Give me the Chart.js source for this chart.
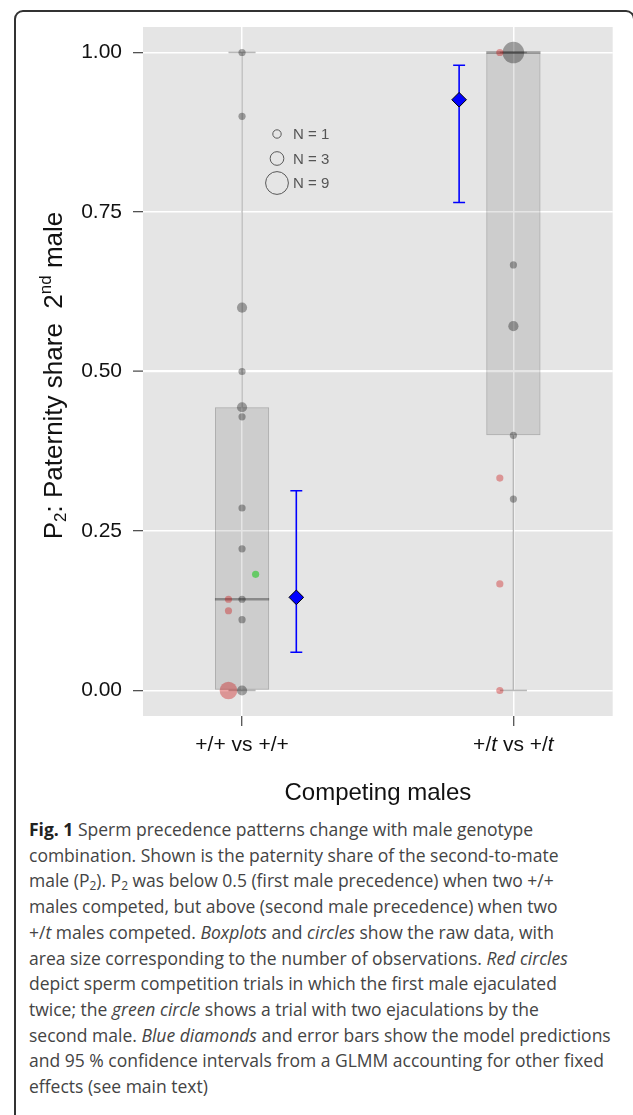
<!DOCTYPE html>
<html>
<head>
<meta charset="UTF-8">
<title>Fig. 1</title>
<script src="https://cdn.jsdelivr.net/npm/chart.js@4.4.1/dist/chart.umd.min.js"></script>
<style>
  html, body { margin: 0; padding: 0; background: #fff; overflow: hidden; }
  body { width: 633px; height: 1115px; position: relative; }
  .frame {
    position: absolute; left: 14px; top: 10px; width: 621px; height: 1130px;
    box-sizing: border-box; border: 2px solid #333; border-radius: 9px;
  }
  #wrap { position: absolute; left: 0; top: 0; width: 633px; height: 810px; }
  .caption {
    position: absolute; left: 29px; top: 817px;
    font-family: "Open Sans", sans-serif; font-size: 17.5px; line-height: 25.7px;
    color: #444; white-space: nowrap;
  }
  .caption b { color: #222; }
  .caption sub { font-size: 12px; line-height: 0; vertical-align: -3px; }
</style>
</head>
<body>
<div class="frame"></div>
<div id="wrap"><canvas id="chart" width="633" height="810"></canvas></div>
<div class="caption">
  <b>Fig. 1</b> Sperm precedence patterns change with male genotype<br>
  combination. Shown is the paternity share of the second-to-mate<br>
  male (P<sub>2</sub>). P<sub>2</sub> was below 0.5 (first male precedence) when two +/+<br>
  males competed, but above (second male precedence) when two<br>
  +/<i>t</i> males competed. <i>Boxplots</i> and <i>circles</i> show the raw data, with<br>
  area size corresponding to the number of observations. <i>Red circles</i><br>
  depict sperm competition trials in which the first male ejaculated<br>
  twice; the <i>green circle</i> shows a trial with two ejaculations by the<br>
  second male. <i>Blue diamonds</i> and error bars show the model predictions<br>
  and 95 % confidence intervals from a GLMM accounting for other fixed<br>
  effects (see main text)
</div>
<script>
// categories and axis
const groups = ['+/+ vs +/+', '+/t vs +/t'];
const yTicks = [0, 0.25, 0.5, 0.75, 1];

// raw P2 values (single ejaculations) and how many trials share each value
const ppGray  = [1.00, 0.90, 0.60, 0.50, 0.444, 0.429, 0.286, 0.222, 0.143, 0.111, 0.00];
const ppGrayN = [1, 1, 2, 1, 2, 1, 1, 1, 1, 1, 2];
const ptGray  = [1.00, 0.667, 0.571, 0.40, 0.30];
const ptGrayN = [9, 1, 2, 1, 1];

// first male ejaculated twice (red)
const ppRed  = [0.143, 0.125, 0.00];
const ppRedN = [1, 1, 6];
const ptRed  = [1.00, 0.333, 0.167, 0.00];
const ptRedN = [1, 1, 1, 1];

// second male ejaculated twice (green)
const ppGreen  = [0.182];
const ppGreenN = [1];

// boxplot stats per group
const boxQ1     = [0.00, 0.40];
const boxMedian = [0.143, 1.00];
const boxQ3     = [0.444, 1.00];
const whiskLow  = [0.00, 0.00];
const whiskHigh = [1.00, 1.00];

// GLMM predictions and 95% CI
const predP2 = [0.146, 0.926];
const ciLow  = [0.060, 0.765];
const ciHigh = [0.313, 0.980];

const legendN = [1, 3, 9];

// layout constants
const PRED_DX = [0.2, -0.2];
const RED_DX = -0.05, GREEN_DX = 0.05;
const BOX_HALF = 0.1, CAP_HALF = 0.05, EB_CAP = 0.022;
const R1 = 3.6;
const FONT = '"Liberation Sans", Arial, sans-serif';

function pts(vals, ns, g, dx) {
  return vals.map((v, i) => ({ x: g + 1 + dx, y: v, n: ns[i] }));
}
function segs(list) {
  const out = [];
  list.forEach(([x0, y0, x1, y1]) => { out.push({ x: x0, y: y0 }, { x: x1, y: y1 }, { x: x1, y: null }); });
  return out;
}
function lineSet(data, color, width, order) {
  return { type: 'line', data, borderColor: color, borderWidth: width, pointRadius: 0,
    fill: false, spanGaps: false, tension: 0, borderCapStyle: 'butt', order };
}
function dotSet(data, color, order) {
  return { type: 'scatter', data, backgroundColor: color, borderWidth: 0,
    pointRadius: c => c.raw ? R1 * Math.sqrt(c.raw.n) : 0, pointHoverRadius: c => c.raw ? R1 * Math.sqrt(c.raw.n) : 0, order };
}

const whiskerSegs = [], medianSegs = [], ebSegs = [];
groups.forEach((g, i) => {
  const c = i + 1;
  whiskerSegs.push([c, whiskLow[i], c, boxQ1[i]], [c, boxQ3[i], c, whiskHigh[i]],
    [c - CAP_HALF, whiskLow[i], c + CAP_HALF, whiskLow[i]],
    [c - CAP_HALF, whiskHigh[i], c + CAP_HALF, whiskHigh[i]]);
  medianSegs.push([c - BOX_HALF, boxMedian[i], c + BOX_HALF, boxMedian[i]]);
  const ex = c + PRED_DX[i];
  ebSegs.push([ex, ciLow[i], ex, ciHigh[i]],
    [ex - EB_CAP, ciLow[i], ex + EB_CAP, ciLow[i]],
    [ex - EB_CAP, ciHigh[i], ex + EB_CAP, ciHigh[i]]);
});

const datasets = [
  { type: 'bar', data: groups.map((g, i) => ({ x: i + 1, y: [boxQ1[i], boxQ3[i]] })),
    backgroundColor: 'rgba(0,0,0,0.1)', borderColor: 'rgba(0,0,0,0.25)', borderWidth: 1,
    borderSkipped: false, barPercentage: 0.2, categoryPercentage: 1, grouped: false, order: 10 },
  lineSet(segs(whiskerSegs), 'rgba(0,0,0,0.28)', 1.3, 9),
  lineSet(segs(medianSegs), 'rgba(0,0,0,0.33)', 2.6, 8),
  dotSet(pts(ppGray, ppGrayN, 0, 0).concat(pts(ptGray, ptGrayN, 1, 0)), 'rgba(0,0,0,0.33)', 6),
  dotSet(pts(ppRed, ppRedN, 0, RED_DX).concat(pts(ptRed, ptRedN, 1, RED_DX)), 'rgba(200,0,0,0.35)', 5),
  dotSet(pts(ppGreen, ppGreenN, 0, GREEN_DX), 'rgba(0,200,0,0.5)', 4),
  lineSet(segs(ebSegs), '#0000ff', 1.6, 2),
  { type: 'scatter', data: groups.map((g, i) => ({ x: i + 1 + PRED_DX[i], y: predP2[i] })),
    pointStyle: 'rectRot', pointRadius: 7.3, pointHoverRadius: 7.3, backgroundColor: '#0000ff',
    borderColor: '#000', borderWidth: 1, order: 1 }
];

function richText(ctx, parts, x, y, align) {
  let w = 0;
  parts.forEach(p => { ctx.font = p.font; w += ctx.measureText(p.t).width; });
  let cx = align === 'center' ? x - w / 2 : x;
  parts.forEach(p => {
    ctx.font = p.font;
    ctx.fillText(p.t, cx, y + (p.dy || 0));
    cx += ctx.measureText(p.t).width;
  });
}

const decor = {
  id: 'decor',
  beforeDraw(chart) {
    const { ctx, chartArea: a } = chart;
    ctx.save();
    ctx.fillStyle = '#e5e5e5';
    ctx.fillRect(a.left, a.top, a.right - a.left, a.bottom - a.top);
    ctx.restore();
  },
  afterDraw(chart) {
    const { ctx, chartArea: a } = chart;
    const xs = chart.scales.x;
    ctx.save();
    ctx.fillStyle = '#111';
    ctx.textBaseline = 'middle';
    // x tick labels, genotype t in italics
    const up = '21px ' + FONT, it = 'italic 21px ' + FONT;
    groups.forEach((g, i) => {
      const parts = g.split(/(t)/).filter(s => s).map(s => ({ t: s, font: s === 't' ? it : up }));
      richText(ctx, parts, xs.getPixelForValue(i + 1), a.bottom + 29, 'center');
    });
    // x title
    ctx.font = '24px ' + FONT;
    ctx.textAlign = 'center';
    ctx.fillText('Competing males', (a.left + a.right) / 2, a.bottom + 77);
    ctx.textAlign = 'left';
    // y title
    ctx.save();
    ctx.translate(55, (a.top + a.bottom) / 2 + 4);
    ctx.rotate(-Math.PI / 2);
    const big = '26px ' + FONT, small = '17px ' + FONT;
    richText(ctx, [
      { t: 'P', font: big }, { t: '2', font: small, dy: 6 },
      { t: ': Paternity share  2', font: big }, { t: 'nd', font: small, dy: -9 },
      { t: ' male', font: big }
    ], 0, 0, 'center');
    ctx.restore();
    // size legend
    const lx = a.left + 134, ly = a.top + 107;
    const gap = [0, 24.5, 49];
    legendN.forEach((n, i) => {
      ctx.beginPath();
      ctx.arc(lx, ly + gap[i], R1 * Math.sqrt(n) + 0.6, 0, Math.PI * 2);
      ctx.strokeStyle = '#595959';
      ctx.lineWidth = 1;
      ctx.stroke();
      ctx.fillStyle = '#555';
      ctx.font = '15px ' + FONT;
      ctx.fillText('N = ' + n, lx + 16, ly + gap[i] + 1);
    });
    ctx.restore();
  }
};

new Chart(document.getElementById('chart'), {
  type: 'scatter',
  data: { datasets },
  options: {
    responsive: false,
    animation: false,
    events: [],
    layout: { padding: { top: 27, right: 20.3, left: 0, bottom: 34 } },
    plugins: { legend: { display: false }, tooltip: { enabled: false } },
    scales: {
      x: {
        type: 'linear', min: 0.635, max: 2.366, offset: false,
        afterBuildTicks: s => { s.ticks = groups.map((g, i) => ({ value: i + 1 })); },
        afterFit: s => { s.height = 60; },
        ticks: { display: true, color: 'rgba(0,0,0,0)', callback: () => '' },
        grid: { color: '#ffffff', lineWidth: 1.5, offset: false, drawTicks: true,
          tickLength: 10, tickColor: '#333', tickWidth: 1.1 },
        border: { display: false }
      },
      y: {
        type: 'linear', min: -0.04, max: 1.04,
        afterBuildTicks: s => { s.ticks = yTicks.map(v => ({ value: v })); },
        afterFit: s => { s.width = 143; },
        ticks: { callback: v => v.toFixed(2), color: '#111', padding: 11,
          font: { family: FONT, size: 21 } },
        grid: { color: '#ffffff', lineWidth: c => (c.tick && c.tick.value === 0.5) ? 2.2 : 1.4,
          tickLength: 10, tickColor: '#333', tickWidth: 1.1 },
        border: { display: false }
      }
    }
  },
  plugins: [decor]
});
</script>
</body>
</html>
